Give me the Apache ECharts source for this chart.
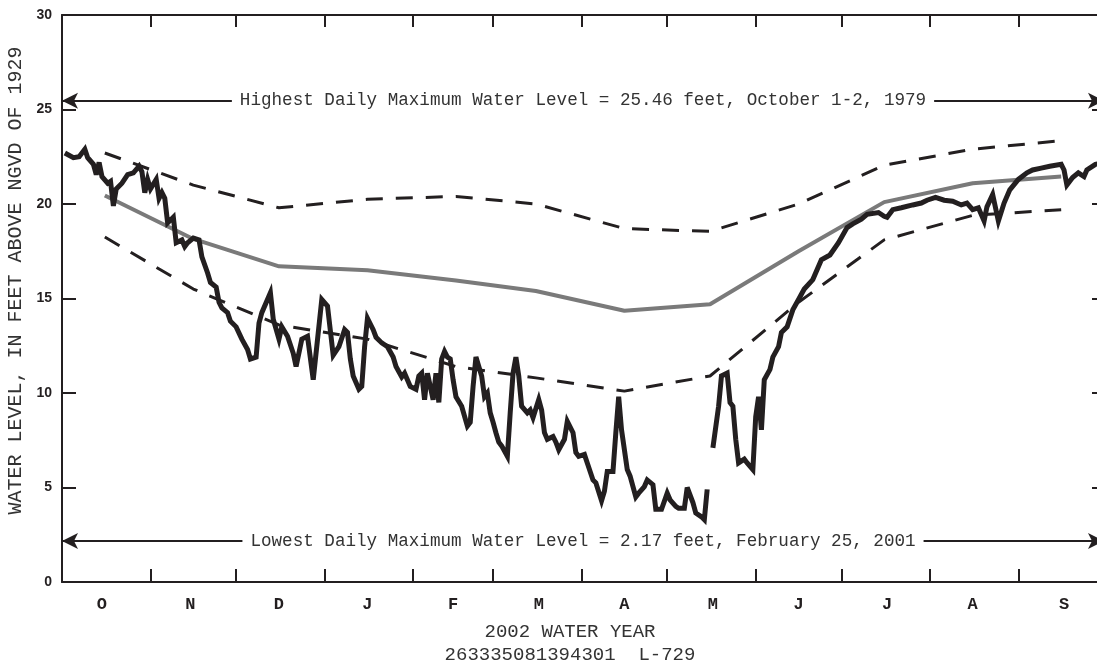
<!DOCTYPE html>
<html><head><meta charset="utf-8">
<script src="https://cdn.jsdelivr.net/npm/echarts@6/dist/echarts.min.js"></script>
<style>html,body{margin:0;padding:0;background:#fff}#c{width:1097px;height:662px}</style>
</head><body><div id="c"></div>
<script>
// Water-year day index (0 = Oct 1)
const monthTickDays = [0, 31, 61, 92, 123, 151, 182, 212, 243, 273, 304, 335, 365];
const monthLabelDays = [14, 45, 76, 107, 137, 167, 197, 228, 258, 289, 319, 351];
const monthLabels = ['O', 'N', 'D', 'J', 'F', 'M', 'A', 'M', 'J', 'J', 'A', 'S'];

// Daily maximum water level, 2002 water year
const dailyDays = [1,4,6,8,9,11,12,13,14,16,17,18,19,21,23,25,27,28,29,30,31,33,34,35,36,37,39,40,42,43,44,46,48,49,51,52,54,55,56,58,59,61,63,65,66,68,69,70,73,74,76,77,79,81,82,84,86,88,91,93,95,97,99,100,101,102,104,105,106,107,109,110,112,114,116,117,119,120,122,124,125,126,127,128,130,131,132,133,134,135,136,137,138,140,142,143,144,145,147,148,149,150,151,152,153,154,156,157,158,159,160,161,163,164,165,167,168,169,170,172,173,174,176,177,179,180,181,183,184,186,187,189,190,191,193,194,195,196,198,199,201,202,204,205,207,208,210,212,213,215,216,218,219,221,222,224,225,226,227,228,230,231,233,234,235,236,237,239,240,242,243,244,245,246,248,249,251,252,254,256,258,260,263,266,269,272,275,277,280,282,286,288,289,291,294,298,301,303,306,309,312,315,317,319,321,323,324,326,328,330,332,335,338,340,343,346,350,351,352,354,356,358,359,362,365];
const dailyLevels = [22.7,22.45,22.5,22.9,22.45,22.1,21.55,22.2,21.45,21.1,21.2,19.9,20.8,21.1,21.55,21.65,22.0,21.7,20.6,21.3,20.8,21.3,20.3,20.6,20.3,19.0,19.3,17.95,18.1,17.75,17.95,18.2,18.1,17.2,16.35,15.85,15.6,14.8,14.5,14.25,13.8,13.5,12.85,12.3,11.8,11.9,13.7,14.25,15.3,13.9,12.85,13.5,13.0,12.1,11.4,12.85,13.0,10.7,14.95,14.6,12.0,12.45,13.35,13.2,11.8,10.9,10.2,10.35,12.45,13.95,13.35,12.95,12.65,12.45,11.9,11.4,10.85,11.05,10.35,10.2,10.9,11.05,9.65,11.05,9.65,11.05,9.5,11.8,12.2,11.9,11.8,10.7,9.8,9.3,8.25,8.45,10.35,11.9,10.9,9.8,10.0,8.95,8.45,7.9,7.4,7.2,6.65,8.95,11.05,11.9,10.9,9.3,8.95,9.1,8.7,9.65,9.1,7.9,7.55,7.7,7.4,7.0,7.55,8.5,7.9,6.85,6.65,6.75,6.3,5.4,5.25,4.3,4.8,5.85,5.85,7.9,9.8,8.05,5.95,5.6,4.5,4.7,5.05,5.4,5.15,3.85,3.85,4.7,4.35,4.0,3.9,3.9,5.0,4.2,3.65,3.45,3.3,4.9,null,7.1,9.3,10.9,11.05,9.5,9.3,7.55,6.3,6.5,6.3,5.95,8.75,9.8,8.05,10.7,11.25,11.9,12.45,13.2,13.5,14.4,14.95,15.5,16.0,17.05,17.3,17.95,18.75,18.95,19.2,19.45,19.55,19.35,19.3,19.7,19.8,19.95,20.05,20.2,20.35,20.2,20.15,19.95,20.05,19.7,19.8,19.1,19.85,20.5,19.1,20.05,20.75,21.3,21.65,21.8,21.9,22.0,22.1,21.8,21.0,21.4,21.65,21.45,21.8,22.1,22.2];

// Monthly statistics (mid-month)
const curveDays = [15, 46, 76, 107, 138, 166, 197, 227, 258, 288, 319, 350];
const medianLevels = [20.45, 18.15, 16.7, 16.5, 15.95, 15.4, 14.35, 14.7, 17.5, 20.1, 21.1, 21.45];
const upperLevels = [22.7, 21.0, 19.8, 20.25, 20.4, 20.0, 18.7, 18.55, 20.0, 22.05, 22.9, 23.35];
const lowerLevels = [18.25, 15.5, 13.6, 12.85, 11.4, 10.8, 10.1, 10.9, 14.8, 18.1, 19.4, 19.7];

const highestLevel = 25.46;
const lowestLevel = 2.17;
const highestText = 'Highest Daily Maximum Water Level = 25.46 feet, October 1-2, 1979';
const lowestText = 'Lowest Daily Maximum Water Level = 2.17 feet, February 25, 2001';
const yMin = 0, yMax = 30, yStep = 5;

const INK = '#231f20';
const pairs = (xs, ys) => xs.map((d, i) => [d, ys[i] === null ? '-' : ys[i]]);

const chart = echarts.init(document.getElementById('c'), null, {renderer: 'canvas'});
chart.setOption({
  animation: false,
  backgroundColor: '#ffffff',
  grid: {left: 62, top: 15, width: 1042, height: 567, containLabel: false, outerBoundsMode: 'none'},
  xAxis: [{
    type: 'value', min: 0, max: 365, position: 'bottom',
    axisLine: {show: true, onZero: false, lineStyle: {color: INK, width: 2}},
    axisTick: {show: true, inside: true, length: 13, customValues: monthTickDays, lineStyle: {color: INK, width: 2}},
    axisLabel: {show: true, customValues: monthLabelDays, margin: 14,
      formatter: v => monthLabels[monthLabelDays.indexOf(v)] || '',
      fontFamily: 'Liberation Mono', fontWeight: 'bold', fontSize: 17, color: INK},
    splitLine: {show: false},
    name: '2002 WATER YEAR\n263335081394301  L-729', nameLocation: 'middle', nameGap: 38,
    nameTextStyle: {fontFamily: 'Liberation Mono', fontSize: 19, color: '#333', lineHeight: 23, padding: [0, 26, 0, 0]}
  }, {
    type: 'value', min: 0, max: 365, position: 'top',
    axisLine: {show: true, onZero: false, lineStyle: {color: INK, width: 2}},
    axisTick: {show: true, inside: true, length: 12, customValues: monthTickDays, lineStyle: {color: INK, width: 2}},
    axisLabel: {show: false}, splitLine: {show: false}
  }],
  yAxis: [{
    type: 'value', min: yMin, max: yMax, interval: yStep, position: 'left',
    axisLine: {show: true, onZero: false, lineStyle: {color: INK, width: 2}},
    axisTick: {show: true, inside: true, length: 14, lineStyle: {color: INK, width: 2}},
    axisLabel: {margin: 10, fontFamily: 'Liberation Sans', fontWeight: 'bold', fontSize: 14, color: INK},
    splitLine: {show: false},
    name: 'WATER LEVEL, IN FEET ABOVE NGVD OF 1929', nameLocation: 'middle', nameGap: 34,
    nameTextStyle: {fontFamily: 'Liberation Mono', fontSize: 20, color: '#333', padding: [0, 0, 0, 36]}
  }, {
    type: 'value', min: yMin, max: yMax, interval: yStep, position: 'right',
    axisLine: {show: true, onZero: false, lineStyle: {color: INK, width: 2}},
    axisTick: {show: true, inside: true, length: 12, lineStyle: {color: INK, width: 2}},
    axisLabel: {show: false}, splitLine: {show: false}
  }],
  series: [{
    name: 'median', type: 'line', data: pairs(curveDays, medianLevels),
    showSymbol: false, symbol: 'none', z: 2,
    lineStyle: {color: '#7a7a7a', width: 4}
  }, {
    name: 'upper', type: 'line', data: pairs(curveDays, upperLevels),
    showSymbol: false, symbol: 'none', z: 3,
    lineStyle: {color: INK, width: 3, type: [17, 13]}
  }, {
    name: 'lower', type: 'line', data: pairs(curveDays, lowerLevels),
    showSymbol: false, symbol: 'none', z: 3,
    lineStyle: {color: INK, width: 3, type: [17, 13]}
  }, {
    name: 'daily', type: 'line', data: pairs(dailyDays, dailyLevels),
    showSymbol: false, symbol: 'none', connectNulls: false, z: 4,
    lineStyle: {color: INK, width: 5, join: 'miter', miterLimit: 4},
    markLine: {
      silent: true, animation: false,
      symbol: ['arrow', 'arrow'], symbolSize: [12, 16],
      lineStyle: {color: INK, width: 2, type: 'solid'},
      label: {show: true, position: 'middle', distance: 0, verticalAlign: 'middle',
        formatter: '{b}', fontFamily: 'Liberation Mono', fontSize: 17.6, color: '#333',
        backgroundColor: '#ffffff', padding: [2, 8]},
      emphasis: {disabled: true},
      data: [
        [{coord: [0, highestLevel], name: highestText}, {coord: [365, highestLevel]}],
        [{coord: [0, lowestLevel], name: lowestText}, {coord: [365, lowestLevel]}]
      ]
    }
  }]
});
</script></body></html>
